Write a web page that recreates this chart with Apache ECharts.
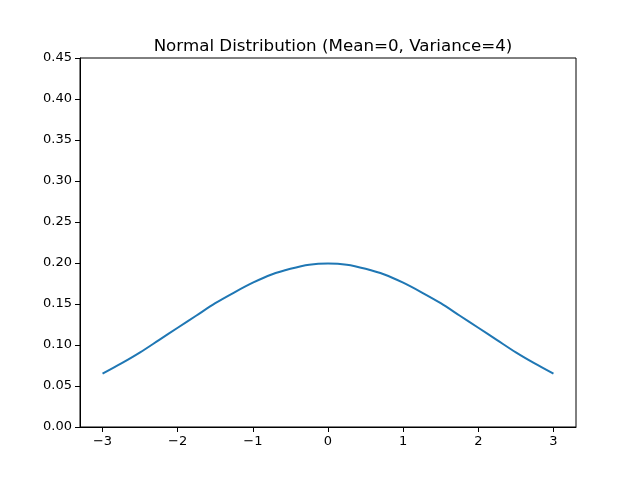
<!DOCTYPE html>
<html>
<head>
<meta charset="utf-8">
<script src="https://cdn.jsdelivr.net/npm/echarts@6/dist/echarts.min.js"></script>
<style>html,body{margin:0;padding:0;background:#fff;}#c{width:640px;height:480px;}</style>
</head>
<body>
<div id="c"></div>
<script>
var xValues = [-3, -2.75, -2.5, -2.25, -2, -1.75, -1.5, -1.25, -1, -0.75, -0.5, -0.25, 0, 0.25, 0.5, 0.75, 1, 1.25, 1.5, 1.75, 2, 2.25, 2.5, 2.75, 3];
var yValues = [0.065, 0.0775, 0.091, 0.106, 0.121, 0.136, 0.151, 0.164, 0.176, 0.186, 0.193, 0.198, 0.1995, 0.198, 0.193, 0.186, 0.176, 0.164, 0.151, 0.136, 0.121, 0.106, 0.091, 0.0775, 0.065];
var xTicks = [-3, -2, -1, 0, 1, 2, 3];
var yTicks = [0, 0.05, 0.1, 0.15, 0.2, 0.25, 0.3, 0.35, 0.4, 0.45];
var titleText = 'Normal Distribution (Mean=0, Variance=4)';

var pts = xValues.map(function (x, i) { return [x, yValues[i]]; });
var xMin = xTicks[0], xMax = xTicks[xTicks.length - 1];
var pad = (xMax - xMin) * 0.05;
var plotL = 80, plotR = 576, plotT = 58, plotB = 427, tickLen = 5;
var pxPerUnit = (plotR - plotL) / (xMax - xMin + 2 * pad);
var font = { fontFamily: 'DejaVu Sans', fontSize: 13, color: '#000' };

var chart = echarts.init(document.getElementById('c'));
chart.setOption({
  animation: false,
  title: {
    text: titleText, left: 328, top: 33, textAlign: 'center',
    textStyle: { fontFamily: 'DejaVu Sans', fontSize: 16.7, fontWeight: 'normal', color: '#000' }
  },
  grid: [
    { left: plotL, right: 640 - plotR, top: plotT, bottom: 480 - plotB, show: true, borderColor: '#000', borderWidth: 1, backgroundColor: 'transparent' },
    { left: plotL + pad * pxPerUnit, right: 640 - plotR + pad * pxPerUnit, top: plotB, bottom: 480 - plotB - tickLen }
  ],
  xAxis: [
    {
      gridIndex: 0, type: 'value', min: xMin - pad, max: xMax + pad,
      splitLine: { show: false }, axisLine: { show: true, onZero: false, lineStyle: { color: '#000' } },
      axisTick: { show: false }, axisLabel: { show: false }
    },
    {
      gridIndex: 1, type: 'value', min: xMin, max: xMax, interval: 1, position: 'bottom',
      splitLine: { show: true, showMinLine: true, showMaxLine: true, lineStyle: { color: '#000', width: 1, type: 'solid' } },
      axisLine: { show: false, onZero: false },
      axisTick: { show: false },
      axisLabel: Object.assign({ margin: 3, formatter: function (v) { return String(v).replace('-', '\u2212'); } }, font)
    }
  ],
  yAxis: [
    {
      gridIndex: 0, type: 'value', min: yTicks[0], max: yTicks[yTicks.length - 1], interval: 0.05,
      splitLine: { show: false },
      axisLine: { show: true, onZero: false, lineStyle: { color: '#000' } },
      axisTick: { show: true, length: tickLen, lineStyle: { color: '#000' } },
      axisLabel: Object.assign({ margin: 8, formatter: function (v) { return v.toFixed(2); } }, font)
    },
    {
      gridIndex: 1, type: 'value', min: 0, max: 1, show: false,
      splitLine: { show: false }
    }
  ],
  series: [{
    type: 'line', xAxisIndex: 0, yAxisIndex: 0, data: pts, smooth: 0.3, showSymbol: false,
    lineStyle: { color: '#1f77b4', width: 2 }
  }]
});
</script>
</body>
</html>
